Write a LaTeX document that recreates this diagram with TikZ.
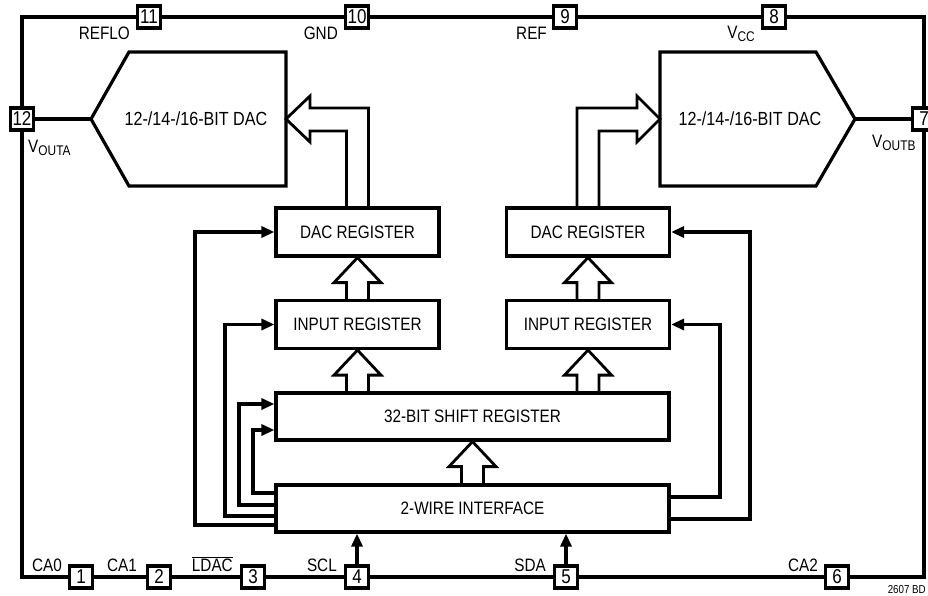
\documentclass[tikz,border=0pt]{standalone}
\usepackage{fontspec}
\setmainfont{Liberation Sans}[FakeStretch=0.85]
\usetikzlibrary{arrows.meta, calc}

% subscript of the pin names
\newcommand{\pinsub}[1]{\raisebox{-0.35ex}{\fontsize{14}{14}\selectfont #1}}
% hollow bus arrow pointing up, from base point #1 to tip point #2
\newcommand{\busup}[2]{\draw[bus] ($#1+(-11,0)$) -- ($#2+(-11,25)$) -- ++(-12.5,0) -- #2 -- ++(23.5,25) -- ++(-12.5,0) -- ($#1+(11,0)$);}

\tikzset{
  regbox/.style={draw, line width=3.2pt, minimum width=163pt, minimum height=48pt, inner sep=0pt},
  widebox/.style={regbox, minimum width=393pt, minimum height=47pt},
  pinbox/.style={draw, fill=white, line width=3.2pt, minimum width=23pt, minimum height=22pt, inner sep=0pt, font=\fontsize{20}{20}\selectfont},
  lbl/.style={inner sep=0pt},
  ctl/.style={line width=3.2pt, -{Triangle[length=13pt,width=11pt]}},
  wire/.style={line width=3.2pt},
  bus/.style={line width=2.8pt, line join=miter},
  border/.style={line width=4.6pt}
}

\begin{document}
\begin{tikzpicture}[x=1pt, y=-1pt, every node/.style={font=\fontsize{18}{20}\selectfont}]
\useasboundingbox (0,0) rectangle (928,595);

% Package outline
\draw[border] (22,17) rectangle (924,577);

% Pins
\foreach \n/\px/\py in {11/149/17, 10/357/17, 9/565/17, 8/774/17, 12/22/119, 7/924/119,
                        1/81/577, 2/159/577, 3/253/577, 4/357/577, 5/566/577, 6/837/577} {
  \node[pinbox] at (\px,\py) (pin\n) {\n};
}

% Pin names
\node[lbl, anchor=base east] at (130,39) (reflo) {REFLO};
\node[lbl, anchor=base east] at (338,39) (gnd) {GND};
\node[lbl, anchor=base east] at (547,39) (ref) {REF};
\node[lbl, anchor=base east] at (755,38) (vcc) {V\pinsub{CC}};
\node[lbl, anchor=base west] at (28,152) (vouta) {V\pinsub{OUTA}};
\node[lbl, anchor=base west] at (872,147) (voutb) {V\pinsub{OUTB}};
\node[lbl, anchor=base east] at (62,571) (ca0) {CA0};
\node[lbl, anchor=base east] at (137,571) (ca1) {CA1};
\node[lbl, anchor=base east] at (233,571) (ldac) {$\overline{\hbox{LDAC}}$};
\node[lbl, anchor=base east] at (337,571) (scl) {SCL};
\node[lbl, anchor=base east] at (546,571) (sda) {SDA};
\node[lbl, anchor=base east] at (818,571) (ca2) {CA2};
\node[lbl, anchor=base east, font=\fontsize{11.5}{12}\selectfont] at (926,593) (code) {2607 BD};

% DACs
\draw[wire] (129,52) -- (286,52) -- (286,186) -- (129,186) -- (91,119) -- cycle;
\coordinate (dacAin) at (286,119);
\coordinate (dacAout) at (91,119);
\node[font=\fontsize{19}{20}\selectfont] at (196,119) (dacA) {12-/14-/16-BIT DAC};

\draw[wire] (660,52) -- (816,52) -- (855,119) -- (816,186) -- (660,186) -- cycle;
\coordinate (dacBin) at (660,119);
\coordinate (dacBout) at (855,119);
\node[font=\fontsize{19}{20}\selectfont] at (750,119) (dacB) {12-/14-/16-BIT DAC};

% Registers
\node[regbox] at (357.5,232) (dacregA) {DAC REGISTER};
\node[regbox] at (357.5,324.5) (inregA) {INPUT REGISTER};
\node[regbox] at (588,232) (dacregB) {DAC REGISTER};
\node[regbox] at (588,324.5) (inregB) {INPUT REGISTER};
\node[widebox] at (472.5,416.5) (shift) {32-BIT SHIFT REGISTER};
\node[widebox] at (472.5,508.5) (twowire) {2-WIRE INTERFACE};

% Outputs
\draw[wire] (pin12.east) -- (dacAout);
\draw[wire] (dacBout) -- (pin7.west);

% Buses
\busup{(twowire.north)}{(shift.south)}
\busup{(inregA.south |- shift.north)}{(inregA.south)}
\busup{(inregB.south |- shift.north)}{(inregB.south)}
\busup{(inregA.north)}{(dacregA.south)}
\busup{(inregB.north)}{(dacregB.south)}
\draw[bus] ($(dacregA.north)+(-11,0)$) |- (310,131) -- (310,142) -- (dacAin) -- (310,96) -- (310,108) -| ($(dacregA.north)+(11,0)$);
\draw[bus] ($(dacregB.north)+(11,0)$) |- (637,131) -- (637,142) -- (dacBin) -- (637,96) -- (637,108) -| ($(dacregB.north)+(-11,0)$);

% Control lines
\draw[ctl] (twowire.west |- 0,525) -| (dacregA.west -| 195,0) -- (dacregA.west);
\draw[ctl] (twowire.west |- 0,516) -| (inregA.west -| 225,0) -- (inregA.west);
\draw[ctl] (twowire.west |- 0,505) -| (239,404) -- (shift.west |- 0,404);
\draw[ctl] (twowire.west |- 0,493) -| (253,430) -- (shift.west |- 0,430);
\draw[ctl] (twowire.east |- 0,497) -| (inregB.east -| 720,0) -- (inregB.east);
\draw[ctl] (twowire.east |- 0,519) -| (dacregB.east -| 750,0) -- (dacregB.east);
\draw[ctl] (pin4.north) -- (pin4.north |- twowire.south);
\draw[ctl] (pin5.north) -- (pin5.north |- twowire.south);

\end{tikzpicture}
\end{document}
